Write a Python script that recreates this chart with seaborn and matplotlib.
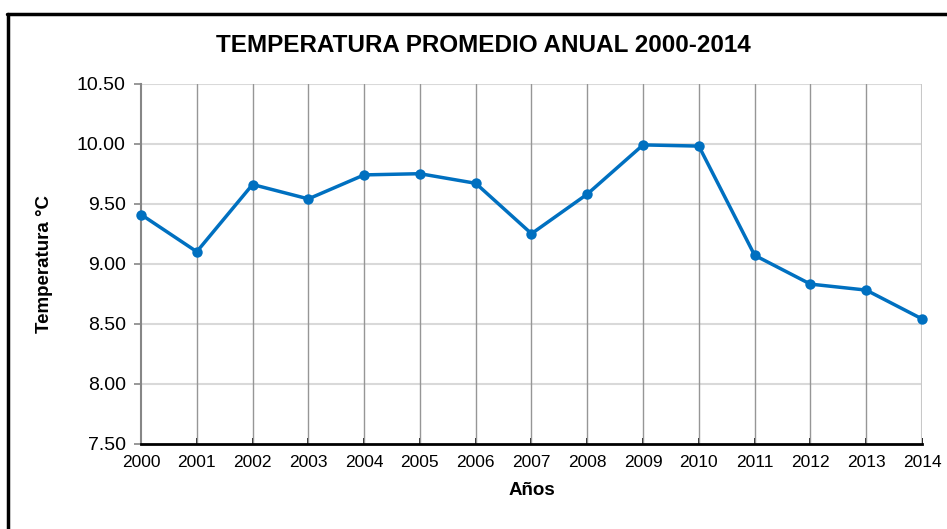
import matplotlib
matplotlib.use("Agg")
import matplotlib.pyplot as plt
import seaborn as sns
import pandas as pd
from matplotlib.lines import Line2D

years = [2000, 2001, 2002, 2003, 2004, 2005, 2006, 2007, 2008, 2009, 2010, 2011, 2012, 2013, 2014]
temps = [9.41, 9.10, 9.66, 9.54, 9.74, 9.75, 9.67, 9.25, 9.58, 9.99, 9.98, 9.07, 8.83, 8.78, 8.54]
yticks = [7.50, 8.00, 8.50, 9.00, 9.50, 10.00, 10.50]

title = "TEMPERATURA PROMEDIO ANUAL 2000-2014"
xlabel = "Años"
ylabel = "Temperatura °C"

df = pd.DataFrame({"year": years, "temp": temps})

sns.set_theme(style="white")
plt.rcParams["font.family"] = ["Liberation Sans", "DejaVu Sans"]
plt.rcParams["text.color"] = "black"
plt.rcParams["axes.labelcolor"] = "black"
plt.rcParams["xtick.color"] = "black"
plt.rcParams["ytick.color"] = "black"

fig = plt.figure(figsize=(9.47, 5.29), dpi=100)
ax = fig.add_axes([141 / 947, 1 - 443.7 / 529, (922 - 141) / 947, (443.7 - 83.7) / 529])

sns.lineplot(data=df, x="year", y="temp", ax=ax, color="#0070C0", linewidth=2.5,
             marker="o", markersize=7.5, markeredgewidth=0, zorder=5, clip_on=False)

ax.set_xlim(2000, 2014)
ax.set_ylim(7.5, 10.5)
ax.set_xticks(years)
ax.set_xticklabels([str(y) for y in years], fontsize=12.5)
ax.set_yticks(yticks)
ax.set_yticklabels([f"{v:.2f}" for v in yticks], fontsize=14)

# gridlines
for v in yticks[1:]:
    ax.axhline(v, color="#d9d9d9", linewidth=1.5, zorder=1)
for y in years[1:-1]:
    ax.axvline(y, color="#969696", linewidth=1.0, zorder=1)
ax.axvline(2014, color="#c8c8c8", linewidth=1.5, zorder=1)

for s in ["top", "right"]:
    ax.spines[s].set_visible(False)
ax.spines["left"].set_color("#868686")
ax.spines["left"].set_linewidth(1.5)
ax.spines["bottom"].set_color("black")
ax.spines["bottom"].set_linewidth(2)

ax.tick_params(axis="y", direction="out", length=5, width=1.2, color="#868686", labelcolor="black", pad=6, left=True)
ax.tick_params(axis="x", direction="in", length=4, width=1.2, color="black", labelcolor="black", pad=8, bottom=True)

ax.set_xlabel(xlabel, fontsize=13.5, fontweight="bold", labelpad=9)
ax.set_ylabel(ylabel, fontsize=13.5, fontweight="bold", labelpad=17)
fig.text(483 / 947, 1 - 46 / 529, title, ha="center", va="center", fontsize=17.5, fontweight="bold")

# outer frame (top and left edges)
fig.add_artist(Line2D([8 / 947, 8 / 947], [0, 1 - 14 / 529], transform=fig.transFigure, color="black", linewidth=2.5))
fig.add_artist(Line2D([7 / 947, 1], [1 - 14 / 529, 1 - 14 / 529], transform=fig.transFigure, color="black", linewidth=2.5))

fig.savefig("out.png", dpi=100)
